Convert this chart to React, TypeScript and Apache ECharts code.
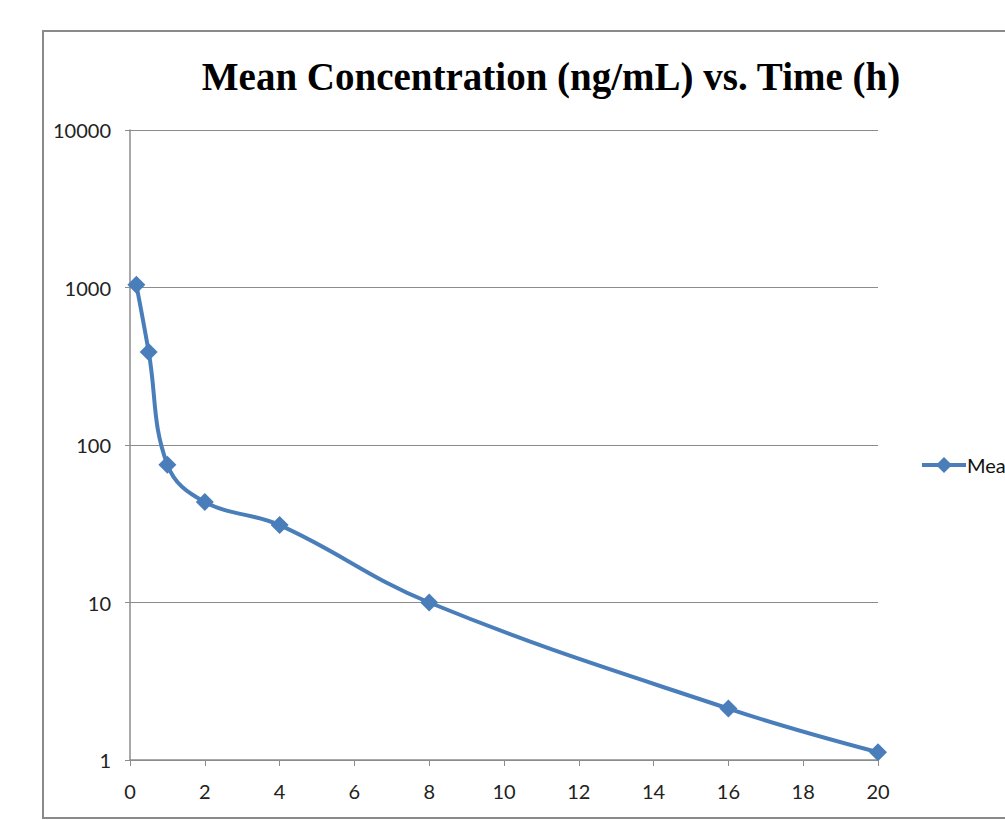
import React, { useEffect, useRef } from "react";
import * as echarts from "echarts";

const timeHours = [0.17, 0.5, 1, 2, 4, 8, 16, 20];
const meanConc = [1040, 390, 75, 43.5, 31, 10, 2.12, 1.12];
const xTicks = { min: 0, max: 20, interval: 2 };
const yRange = { min: 1, max: 10000 };
const titleText = "Mean Concentration (ng/mL) vs. Time (h)";
const seriesName = "Mean Concentration";

export default function App() {
  const ref = useRef<HTMLDivElement>(null);
  useEffect(() => {
    if (!ref.current) return;
    const chart = echarts.init(ref.current, null, { renderer: "svg" });
    const axisGray = "#8c8c8c";
    const lblFont = { fontFamily: "Lato", fontSize: 20, color: "#222" };
    chart.setOption({
      animation: false,
      backgroundColor: "#fff",
      title: {
        text: titleText,
        left: 546,
        textAlign: "center",
        top: 52,
        textStyle: {
          fontFamily: "Liberation Serif",
          fontWeight: "bold",
          fontSize: 39,
          color: "#000",
        },
      },
      graphic: [
        {
          type: "rect",
          shape: { x: 43, y: 31, width: 1000, height: 787 },
          style: { fill: "none", stroke: "#8a8a8a", lineWidth: 2 },
          silent: true,
        },
      ],
      legend: {
        data: [seriesName],
        left: 915,
        top: 450,
        itemWidth: 44,
        itemHeight: 20,
        itemGap: 2,
        lineStyle: { width: 4 },
        textStyle: { ...lblFont, color: "#111", padding: [0, 0, 0, -4] },
      },
      grid: { left: 130, right: 127, top: 130, bottom: 60, containLabel: false },
      xAxis: {
        type: "value",
        min: xTicks.min,
        max: xTicks.max,
        interval: xTicks.interval,
        axisLine: { show: true, lineStyle: { color: axisGray, width: 1.5 } },
        axisTick: { show: true, length: 6, lineStyle: { color: axisGray } },
        splitLine: { show: false },
        axisLabel: { ...lblFont, margin: 21 },
      },
      yAxis: {
        type: "log",
        logBase: 10,
        min: yRange.min,
        max: yRange.max,
        axisLine: { show: true, lineStyle: { color: axisGray, width: 1.5 } },
        axisTick: { show: true, length: 5, lineStyle: { color: axisGray } },
        minorTick: { show: false },
        splitLine: { show: true, lineStyle: { color: axisGray, width: 1 } },
        axisLabel: { ...lblFont, margin: 19, formatter: (v: number) => String(Math.round(v)) },
      },
      series: [
        {
          name: seriesName,
          type: "line",
          data: timeHours.map((t, i) => [t, meanConc[i]]),
          smooth: 0.4,
          symbol: "diamond",
          symbolSize: 18,
          lineStyle: { color: "#4a7ebb", width: 4 },
          itemStyle: { color: "#4a7ebb" },
        },
      ],
    });
    return () => chart.dispose();
  }, []);
  return (
    <div
      ref={ref}
      style={{ position: "absolute", left: 0, top: 0, width: 1005, height: 820, overflow: "hidden" }}
    />
  );
}
